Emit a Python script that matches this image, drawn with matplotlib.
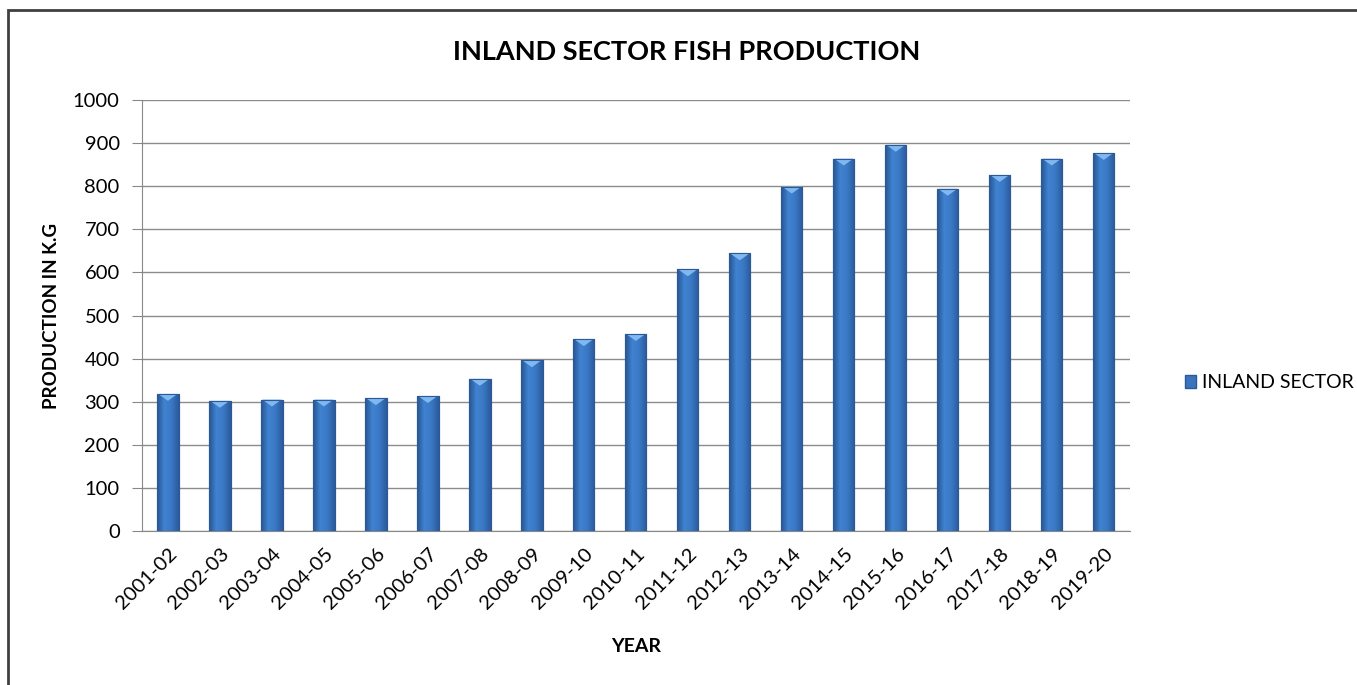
import matplotlib
matplotlib.use("Agg")
import matplotlib.pyplot as plt
import numpy as np
from matplotlib.patches import Rectangle, Polygon
from matplotlib.colors import LinearSegmentedColormap

plt.rcParams['font.family'] = ['Lato', 'DejaVu Sans']

years = ["2001-02", "2002-03", "2003-04", "2004-05", "2005-06", "2006-07",
         "2007-08", "2008-09", "2009-10", "2010-11", "2011-12", "2012-13",
         "2013-14", "2014-15", "2015-16", "2016-17", "2017-18", "2018-19",
         "2019-20"]
production = [318, 302, 305, 305, 308, 313, 353, 396, 445, 457, 607, 644,
              799, 864, 896, 794, 826, 864, 877]
yticks = list(range(0, 1001, 100))

fig = plt.figure(figsize=(13.57, 6.85), dpi=100)
ax = fig.add_axes([0.1046, 0.2248, 0.7279, 0.6292])

x = np.arange(len(years))
width = 0.41
bars = ax.bar(x, production, width, color="#3a73be", edgecolor="#2b5a96",
              linewidth=0.8, zorder=3, label="INLAND SECTOR")

# shading inside each bar (dark edges, lighter middle)
cmap = LinearSegmentedColormap.from_list(
    "bevel", ["#28548f", "#4083d2", "#3b78c4", "#2a5a9b"])
grad = np.linspace(0, 1, 64).reshape(1, -1)
for b in bars:
    x0, y0 = b.get_x(), b.get_y()
    w, h = b.get_width(), b.get_height()
    im = ax.imshow(grad, cmap=cmap, aspect="auto", extent=[x0, x0 + w, y0, y0 + h],
                   zorder=3.5, interpolation="bicubic")
    im.set_clip_path(b)
    # light triangle at the top
    tri = Polygon([[x0 + w * 0.05, y0 + h], [x0 + w * 0.95, y0 + h],
                   [x0 + w * 0.5, y0 + h - 16]], closed=True,
                  facecolor="#80b8f2", edgecolor="none", zorder=4)
    ax.add_patch(tri)
    ax.add_patch(Rectangle((x0, y0), w, h, fill=False, edgecolor="#2b5a96",
                           linewidth=0.8, zorder=4.5))

ax.set_xlim(-0.5, len(years) - 0.5)
ax.set_ylim(0, 1000)
ax.set_yticks(yticks)
ax.set_yticklabels([str(v) for v in yticks], fontsize=14.5)
ax.set_xticks(x)
ax.set_xticklabels(years, rotation=45, ha="right", rotation_mode="anchor", fontsize=14.5)
ax.tick_params(axis="x", length=0, pad=10)
ax.tick_params(axis="y", length=7, color="#888888", pad=9)
ax.grid(axis="y", color="#8c8c8c", linewidth=1, zorder=0)
for s in ["top", "right"]:
    ax.spines[s].set_visible(False)
ax.spines["left"].set_color("#888888")
ax.spines["bottom"].set_color("#888888")

fig.text(687 / 1357, 1 - 52 / 685, "INLAND SECTOR FISH PRODUCTION", fontsize=19.5,
         fontweight="bold", ha="center", va="center")
ax.set_xlabel("YEAR", fontsize=14, fontweight="bold")
ax.xaxis.set_label_coords(0.5, -0.269)
ax.xaxis.label.set_va("center")
ax.set_ylabel("PRODUCTION IN K.G", fontsize=13.5, fontweight="bold")
ax.yaxis.set_label_coords(-0.0916, 0.5)
ax.yaxis.label.set_va("center")

fig.legend(handles=[Rectangle((0, 0), 1, 1, facecolor="#3a73be", edgecolor="#2b5a96")],
           labels=["INLAND SECTOR"], loc="center left", bbox_to_anchor=(0.860, 0.441),
           frameon=False, fontsize=14, handlelength=0.6, handleheight=0.6,
           handletextpad=0.3)

# chart frame
fig.add_artist(Rectangle((8 / 1357, -0.1), 1.1, 1 - 10 / 685 + 0.1,
                         transform=fig.transFigure, fill=False,
                         edgecolor="#404040", linewidth=2))

fig.savefig("out.png", dpi=100)
